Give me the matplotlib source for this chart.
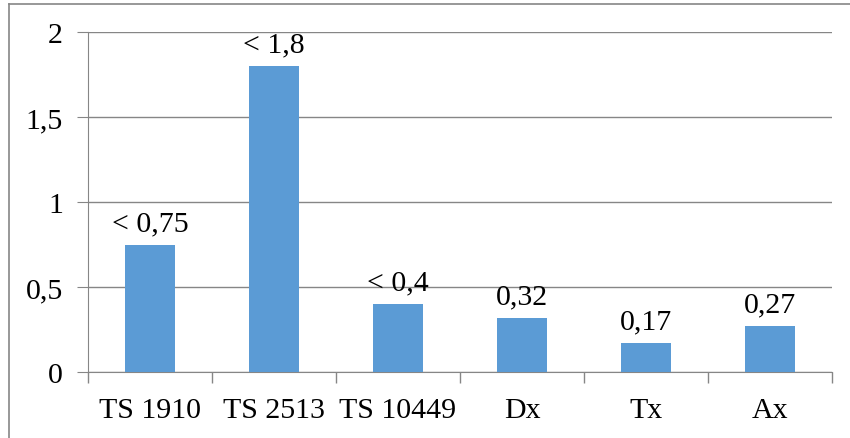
import matplotlib
matplotlib.use("Agg")
import matplotlib.pyplot as plt
from matplotlib.lines import Line2D

# data
categories = ["TS 1910", "TS 2513", "TS 10449", "Dx", "Tx", "Ax"]
values = [0.75, 1.8, 0.4, 0.32, 0.17, 0.27]
labels = ["< 0,75", "< 1,8", "< 0,4", "0,32", "0,17", "0,27"]
yticks = [0, 0.5, 1, 1.5, 2]
yticklabels = ["0", "0,5", "1", "1,5", "2"]

barColor = "#5B9BD5"
lineColor = "#868686"
fs = 21.5

plt.rcParams["font.family"] = ["Liberation Serif", "DejaVu Serif"]

fig = plt.figure(figsize=(8.5, 4.39), dpi=100)
W, H = 850, 439
ax = fig.add_axes([88 / W, 1 - 373 / H, (832 - 88) / W, (373 - 33) / H])

x = range(len(categories))
ax.bar(x, values, width=0.4, color=barColor, zorder=3)

for i, (v, t) in enumerate(zip(values, labels)):
  ax.annotate(t, (i, v), xytext=(0, 6), textcoords="offset points",
              ha="center", va="bottom", fontsize=fs)

ax.set_xlim(-0.5, len(categories) - 0.5)
ax.set_ylim(0, 2)

ax.set_yticks(yticks)
ax.set_yticklabels(yticklabels, fontsize=fs)
ax.set_xticks(list(x))
ax.set_xticklabels(categories, fontsize=fs)
ax.tick_params(axis="x", length=0, pad=18)
ax.tick_params(axis="y", length=8, color=lineColor, pad=10)

# category boundary ticks
ax.set_xticks([i - 0.5 for i in range(len(categories) + 1)], minor=True)
ax.tick_params(axis="x", which="minor", length=8, color=lineColor, width=1)

ax.grid(axis="y", color=lineColor, linewidth=1, zorder=0)
for s in ["top", "right"]:
  ax.spines[s].set_visible(False)
ax.spines["left"].set_color(lineColor)
ax.spines["bottom"].set_color(lineColor)

# outer frame (top and left edges visible)
fig.add_artist(Line2D([8.5 / W, 1], [1 - 4.5 / H, 1 - 4.5 / H], color=lineColor, lw=1.2))
fig.add_artist(Line2D([8.5 / W, 8.5 / W], [0, 1 - 4.5 / H], color=lineColor, lw=1.2))

fig.savefig("out.png", dpi=100)
